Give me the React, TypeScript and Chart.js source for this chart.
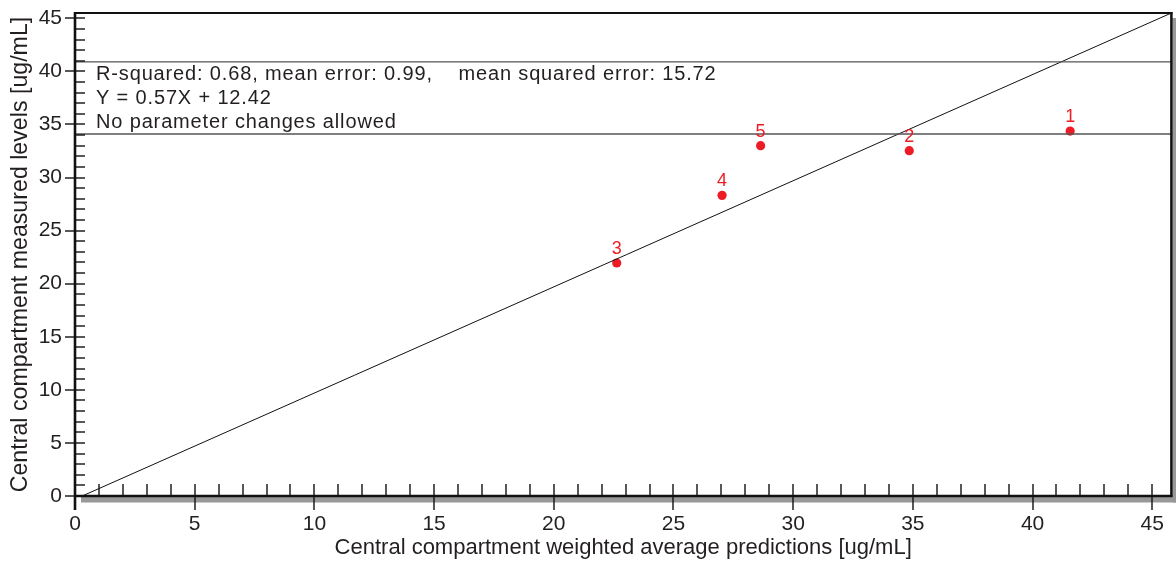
import React, { useEffect, useRef } from "react";
import { Chart, registerables } from "chart.js";

Chart.register(...registerables);

// ---- data ----
const pointLabels = ["1", "2", "3", "4", "5"];
const predicted = [41.57, 34.85, 22.63, 27.03, 28.64];
const measured = [34.38, 32.53, 21.95, 28.32, 33.0];
const identityX = [0.3, 45.8];
const identityY = [0, 45.5];
const boxLineY = [40.9, 34.1];
const xRange = [0, 45.8];
const yRange = [0, 45.5];
const majorTicks = [0, 5, 10, 15, 20, 25, 30, 35, 40, 45];
const minorTickMax = 45;
const statsLines = [
  "R-squared: 0.68, mean error: 0.99,    mean squared error: 15.72",
  "Y = 0.57X + 12.42",
  "No parameter changes allowed",
];
const xTitle = "Central compartment weighted average predictions [ug/mL]";
const yTitle = "Central compartment measured levels [ug/mL]";

const FONT = "'Liberation Sans', Arial, Helvetica, sans-serif";
const RED = "#ed1c24";
const INK = "#231f20";

const framePlugin = {
  id: "frame",
  beforeDatasetsDraw(chart: any) {
    const { ctx, chartArea } = chart;
    const { left, right, top, bottom } = chartArea;
    ctx.save();
    ctx.fillStyle = "#999999";
    ctx.fillRect(left + 6, bottom + 1, right + 5 - (left + 6), 5.5);
    ctx.fillRect(right + 1, top + 5, 4, bottom + 6.5 - (top + 5));
    ctx.restore();
  },
  afterDatasetsDraw(chart: any) {
    const { ctx, chartArea, scales } = chart;
    const { left, right, top, bottom } = chartArea;
    const xs = scales.x;
    const ys = scales.y;
    ctx.save();
    ctx.strokeStyle = "#111111";
    ctx.lineCap = "butt";
    // top border
    ctx.lineWidth = 2.2;
    ctx.beginPath();
    ctx.moveTo(left - 1, top);
    ctx.lineTo(right + 1, top);
    ctx.stroke();
    // right border
    ctx.lineWidth = 2.5;
    ctx.beginPath();
    ctx.moveTo(right, top - 1);
    ctx.lineTo(right, bottom + 1);
    ctx.stroke();
    // left axis
    ctx.lineWidth = 2.6;
    ctx.beginPath();
    ctx.moveTo(left, top - 1);
    ctx.lineTo(left, bottom + 14);
    ctx.stroke();
    // bottom axis
    ctx.lineWidth = 2.6;
    ctx.beginPath();
    ctx.moveTo(left - 1, bottom);
    ctx.lineTo(right + 1, bottom);
    ctx.stroke();
    // ticks
    ctx.lineWidth = 1.4;
    for (let v = 0; v <= minorTickMax; v++) {
      const major = majorTicks.includes(v);
      const py = Math.round(ys.getPixelForValue(v));
      ctx.beginPath();
      ctx.moveTo(major ? left - 10 : left, py);
      ctx.lineTo(left + 10, py);
      ctx.stroke();
      if (v > 0) {
        const px = Math.round(xs.getPixelForValue(v));
        ctx.beginPath();
        ctx.moveTo(px, bottom - 12);
        ctx.lineTo(px, major ? bottom + 14 : bottom);
        ctx.stroke();
      }
    }
    // point labels
    const meta = chart.getDatasetMeta(3);
    ctx.fillStyle = RED;
    ctx.font = `18px ${FONT}`;
    ctx.textAlign = "center";
    ctx.textBaseline = "alphabetic";
    meta.data.forEach((el: any, i: number) => {
      ctx.fillText(pointLabels[i], el.x, el.y - 9);
    });
    // stats text
    const topLine = ys.getPixelForValue(boxLineY[0]);
    ctx.fillStyle = INK;
    ctx.font = `20px ${FONT}`;
    try {
      (ctx as any).letterSpacing = "0.85px";
    } catch (e) {}
    ctx.textAlign = "left";
    statsLines.forEach((t, i) => {
      ctx.fillText(t, left + 21, topLine + 18 + i * 24);
    });
    ctx.restore();
  },
};

export default function App() {
  const ref = useRef<HTMLCanvasElement | null>(null);
  useEffect(() => {
    if (!ref.current) return;
    Chart.defaults.font.family = FONT;
    Chart.defaults.color = INK;
    const chart = new Chart(ref.current, {
      type: "scatter",
      data: {
        datasets: [
          {
            data: [
              { x: xRange[0], y: boxLineY[0] },
              { x: xRange[1], y: boxLineY[0] },
            ],
            showLine: true,
            borderColor: "#555555",
            borderWidth: 1.3,
            pointRadius: 0,
          },
          {
            data: [
              { x: xRange[0], y: boxLineY[1] },
              { x: xRange[1], y: boxLineY[1] },
            ],
            showLine: true,
            borderColor: "#555555",
            borderWidth: 1.3,
            pointRadius: 0,
          },
          {
            data: identityX.map((x, i) => ({ x, y: identityY[i] })),
            showLine: true,
            borderColor: "#111111",
            borderWidth: 1,
            pointRadius: 0,
          },
          {
            data: predicted.map((x, i) => ({ x, y: measured[i] })),
            showLine: false,
            pointRadius: 4.6,
            pointBackgroundColor: RED,
            pointBorderColor: RED,
            pointBorderWidth: 0,
          },
        ],
      },
      options: {
        animation: false,
        responsive: false,
        layout: { padding: { left: 0, right: 4, top: 13, bottom: 0 } },
        plugins: { legend: { display: false }, tooltip: { enabled: false } },
        scales: {
          x: {
            type: "linear",
            min: xRange[0],
            max: xRange[1],
            afterBuildTicks: (s: any) => {
              s.ticks = majorTicks.map((value) => ({ value }));
            },
            afterFit: (s: any) => {
              s.height = 68;
              s.paddingLeft = 0;
              s.paddingRight = 0;
            },
            grid: { display: false, drawTicks: false },
            border: { display: false },
            ticks: {
              padding: 16,
              color: INK,
              font: { size: 21, family: FONT },
              maxRotation: 0,
              autoSkip: false,
            },
            title: {
              display: true,
              text: xTitle,
              color: INK,
              font: { size: 22, family: FONT },
              padding: { top: 0, bottom: 3 },
            },
          },
          y: {
            type: "linear",
            min: yRange[0],
            max: yRange[1],
            afterBuildTicks: (s: any) => {
              s.ticks = majorTicks.map((value) => ({ value }));
            },
            afterFit: (s: any) => {
              s.width = 75;
              s.paddingTop = 0;
              s.paddingBottom = 0;
            },
            grid: { display: false, drawTicks: false },
            border: { display: false },
            ticks: {
              padding: 13,
              color: INK,
              font: { size: 21, family: FONT },
              autoSkip: false,
            },
            title: {
              display: true,
              text: yTitle,
              color: INK,
              font: { size: 23.2, family: FONT },
              padding: { top: 7, bottom: 0 },
            },
          },
        },
      },
      plugins: [framePlugin],
    } as any);
    return () => chart.destroy();
  }, []);
  return (
    <div style={{ position: "absolute", left: 0, top: 0, width: 1176, height: 564, background: "#fff" }}>
      <canvas ref={ref} width={1176} height={564} style={{ display: "block" }} />
    </div>
  );
}
